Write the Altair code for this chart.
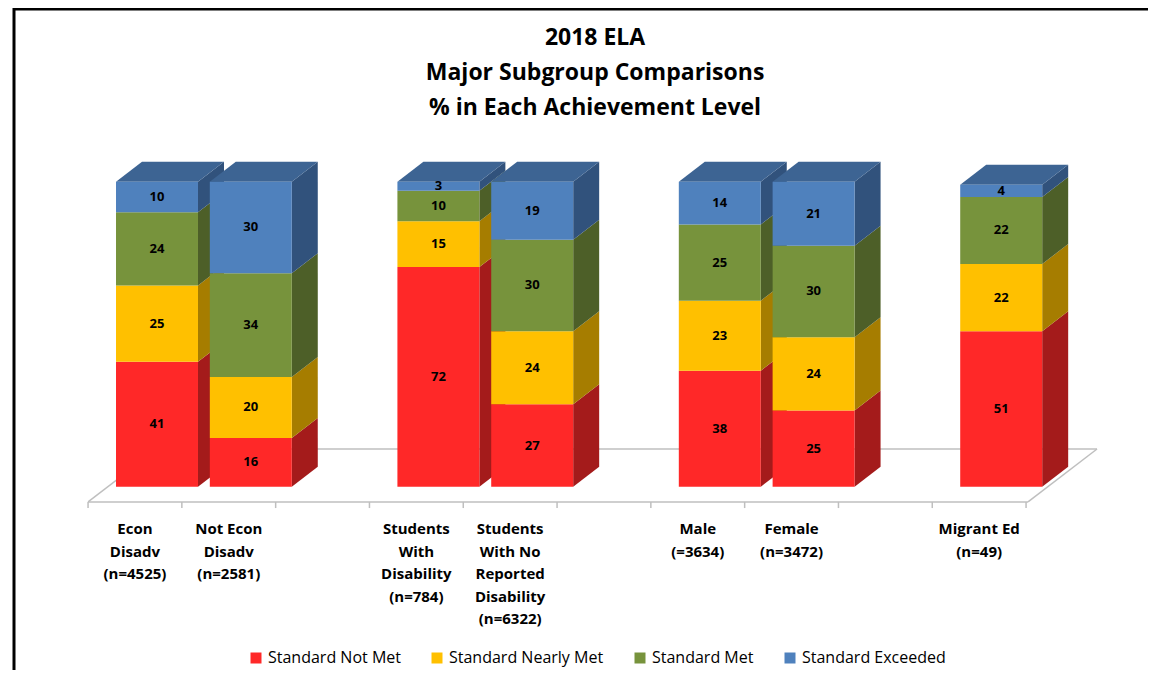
import altair as alt
import pandas as pd

# ---------------- data ----------------
categories = [
    "Econ\nDisadv\n(n=4525)",
    "Not Econ\nDisadv\n(n=2581)",
    "Students\nWith\nDisability\n(n=784)",
    "Students\nWith No\nReported\nDisability\n(n=6322)",
    "Male\n(=3634)",
    "Female\n(n=3472)",
    "Migrant Ed\n(n=49)",
]
slots = [0, 1, 3, 4, 6, 7, 9]          # category position (gaps between groups)
levels = ["Standard Not Met", "Standard Nearly Met", "Standard Met", "Standard Exceeded"]
not_met = [41, 16, 72, 27, 38, 25, 51]
nearly_met = [25, 20, 15, 24, 23, 24, 22]
met = [24, 34, 10, 30, 25, 30, 22]
exceeded = [10, 30, 3, 19, 14, 21, 4]
title_lines = ["2018 ELA", "Major Subgroup Comparisons", "% in Each Achievement Level"]

front_colors = ["#FF2828", "#FFC000", "#77933C", "#4F81BD"]
side_colors = ["#A41B1B", "#A67D00", "#4D5F28", "#31527C"]
top_color = "#3D6493"
floor_color = "#BFBFBF"

# ---------------- geometry (layout) ----------------
W, H = 1140, 662
X_DOMAIN = [-1.5885, 10.565]
Y_DOMAIN = [-60.1, 156.95]
HALF = 0.437      # half bar width in slot units
DX = 0.277        # 3D depth, x (slot units)
DY = 6.56         # 3D depth, y (value units)
FLOOR_L, FLOOR_R = -0.735, 9.286
FLOOR_FRONT, FLOOR_BACK = -5.0, 12.36
FLOOR_DX = 0.7356
LABEL_SHIFT = -0.235

xs = alt.Scale(domain=X_DOMAIN, nice=False, zero=False)
ys = alt.Scale(domain=Y_DOMAIN, nice=False, zero=False)

series = [not_met, nearly_met, met, exceeded]
front_rows, face_rows, label_rows = [], [], []
for ci, (cat, s) in enumerate(zip(categories, slots)):
    lo = 0
    n = len(levels)
    for li in range(n):
        v = series[li][ci]
        hi = lo + v
        front_rows.append(dict(cat=cat, level=levels[li], x=s - HALF, x2=s + HALF,
                               lo=lo, hi=hi, mid=(lo + hi) / 2, slot=s, val=v))
        r = s + HALF
        fid = f"side-{ci}-{li}"
        face_rows.append(dict(face=fid, fill=side_colors[li], x=r, y=lo, y2=hi))
        face_rows.append(dict(face=fid, fill=side_colors[li], x=r + DX, y=lo + DY, y2=hi + DY))
        lo = hi
    # top face
    l, r, t = s - HALF, s + HALF, lo
    fid = f"top-{ci}"
    for px, py, py2 in [(l, t, t), (l + DX, t, t + DY), (r, t, t + DY), (r + DX, t + DY, t + DY)]:
        face_rows.append(dict(face=fid, fill=top_color, x=px, y=py, y2=py2))
    label_rows.append(dict(text=cat, x=s + LABEL_SHIFT))

front_df = pd.DataFrame(front_rows)
face_df = pd.DataFrame(face_rows)
label_df = pd.DataFrame(label_rows)

floor_df = pd.DataFrame([
    dict(x=FLOOR_L, x2=FLOOR_R, y=FLOOR_FRONT, y2=FLOOR_FRONT),
    dict(x=FLOOR_R, x2=FLOOR_R + FLOOR_DX, y=FLOOR_FRONT, y2=FLOOR_BACK),
    dict(x=FLOOR_L + FLOOR_DX, x2=FLOOR_R + FLOOR_DX, y=FLOOR_BACK, y2=FLOOR_BACK),
    dict(x=FLOOR_L, x2=FLOOR_L + FLOOR_DX, y=FLOOR_FRONT, y2=FLOOR_BACK),
] + [dict(x=FLOOR_L + k, x2=FLOOR_L + k, y=FLOOR_FRONT, y2=FLOOR_FRONT - 2.0) for k in range(11)])

title_df = pd.DataFrame(dict(text=title_lines, x=[4.67] * 3, y=[144.8, 133.3, 121.9]))

# ---------------- layers ----------------
floor = alt.Chart(floor_df).mark_rule(color=floor_color, strokeWidth=1.5).encode(
    x=alt.X("x:Q", scale=xs, axis=None), x2="x2:Q",
    y=alt.Y("y:Q", scale=ys, axis=None), y2="y2:Q")

faces = alt.Chart(face_df).mark_area(opacity=1, interpolate="linear").encode(
    x=alt.X("x:Q", scale=xs, axis=None),
    y=alt.Y("y:Q", scale=ys, axis=None, stack=None), y2="y2:Q",
    color=alt.Color("fill:N", scale=None),
    detail="face:N")

fronts = alt.Chart(front_df).mark_rect(strokeWidth=0).encode(
    x=alt.X("x:Q", scale=xs, axis=None), x2="x2:Q",
    y=alt.Y("lo:Q", scale=ys, axis=None), y2="hi:Q",
    color=alt.Color("level:N", scale=alt.Scale(domain=levels, range=front_colors),
                    legend=alt.Legend(title=None, orient="none", legendX=240, legendY=642,
                                      direction="horizontal", symbolType="square",
                                      symbolSize=121, symbolStrokeWidth=0, symbolOpacity=1,
                                      labelFont="Open Sans", labelFontSize=16, labelColor="#000",
                                      labelOffset=4, columnPadding=28, padding=0)))

values = alt.Chart(front_df).mark_text(font="Open Sans", fontWeight="bold", fontSize=13,
                                        color="#000", baseline="middle").encode(
    x=alt.X("slot:Q", scale=xs, axis=None),
    y=alt.Y("mid:Q", scale=ys, axis=None),
    text="val:Q")

cat_labels = alt.Chart(label_df).mark_text(font="Open Sans", fontWeight="bold", fontSize=15,
                                            color="#000", baseline="alphabetic", align="center",
                                            lineBreak="\n", lineHeight=22.5).encode(
    x=alt.X("x:Q", scale=xs, axis=None),
    y=alt.value(526),
    text="text:N")

title = alt.Chart(title_df).mark_text(font="Open Sans", fontWeight="bold", fontSize=23,
                                       color="#000", baseline="alphabetic", align="center").encode(
    x=alt.X("x:Q", scale=xs, axis=None),
    y=alt.Y("y:Q", scale=ys, axis=None),
    text="text:N")

frame_top = alt.Chart(pd.DataFrame({"a": [0]})).mark_rule(color="#000", strokeWidth=3).encode(
    x=alt.value(5), x2=alt.value(W), y=alt.value(1))
frame_left = alt.Chart(pd.DataFrame({"a": [0]})).mark_rule(color="#000", strokeWidth=3).encode(
    x=alt.value(6), y=alt.value(0), y2=alt.value(H))

chart = alt.layer(floor, faces, fronts, values, cat_labels, title, frame_top, frame_left).resolve_scale(
    color="independent").properties(
    width=W, height=H, autosize=alt.AutoSizeParams(type="none"), padding=0,
    background="white").configure_view(strokeWidth=0)

chart.save("out.html", embed_options={"renderer": "svg", "actions": False})
